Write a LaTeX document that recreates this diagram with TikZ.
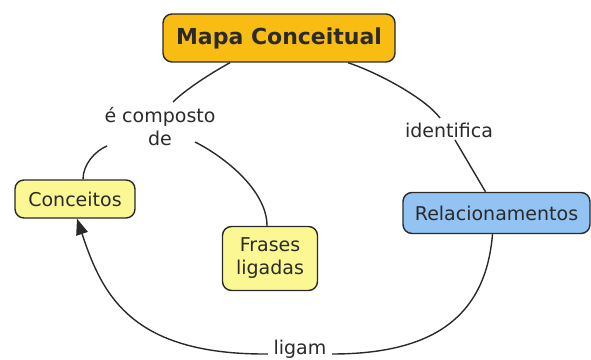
\documentclass[tikz,border=0pt]{standalone}
\usepackage{xcolor}
\usepackage{fontspec}
\setmainfont{DejaVu Sans}
\usepackage{tikz}
\usetikzlibrary{arrows.meta}
\definecolor{mapaOrange}{HTML}{F8BC12}
\definecolor{mapaYellow}{HTML}{FBF793}
\definecolor{mapaBlue}{HTML}{92C3F3}
\definecolor{mapaDark}{HTML}{2A2A2A}

\begin{document}
\begin{tikzpicture}[x=1pt, y=1pt,
        conceito/.style={draw=mapaDark, line width=1.4pt, rounded corners=9pt,
              text=mapaDark, align=center, inner sep=0pt,
              font=\fontsize{19}{23}\selectfont},
        frase/.style={text=mapaDark, align=center, inner sep=0pt,
              font=\fontsize{19}{23}\selectfont},
        ligacao/.style={draw=mapaDark, line width=1.4pt}]
    \useasboundingbox (0,0) rectangle (591,359);
        \node[conceito, fill=mapaOrange, minimum width=232pt, minimum height=48pt,
              font=\fontsize{22}{26}\selectfont\bfseries] (mapa) at (279,321) {Mapa Conceitual};
        \node[frase] (composto) at (160,232) {é composto\\de};
        \node[conceito, fill=mapaYellow, minimum width=120pt, minimum height=38pt] (conceitos) at (75,160) {Conceitos};
        \node[conceito, fill=mapaYellow, minimum width=95pt, minimum height=64pt] (frases) at (270,100.5) {Frases\\ligadas};
        \node[frase] (identifica) at (449,229) {identifica};
        \node[conceito, fill=mapaBlue, minimum width=187pt, minimum height=41pt] (relac) at (496.5,146) {Relacionamentos};
        \node[frase] (ligam) at (300,10) {ligam};

        \draw[ligacao] ([xshift=-49pt]mapa.south) .. controls +(-20,-11) and +(12,12) .. ([shift={(13,25)}]composto.center);
        \draw[ligacao] ([shift={(-53,-19)}]composto.center) .. controls +(-12,-5) and +(0,15) .. ([xshift=8pt]conceitos.north);
        \draw[ligacao] ([shift={(35,-15)}]composto.center) .. controls +(30,-15) and +(0,35) .. ([xshift=-3pt]frases.north);
        \draw[ligacao] ([xshift=69pt]mapa.south) .. controls +(30,-10) and +(-15,20) .. ([shift={(-9,12)}]identifica.center);
        \draw[ligacao] ([shift={(6,-10)}]identifica.center) -- ([xshift=-11pt]relac.north);
        \draw[ligacao] ([xshift=-4pt]relac.south) .. controls +(-7,-85) and +(98,0) .. ([shift={(32,-5)}]ligam.center);
        \draw[ligacao, -{Triangle[length=16pt, width=12pt]}] ([shift={(-32,-5)}]ligam.center) .. controls +(-138,-1) and +(25,-75) .. ([xshift=2pt]conceitos.south);
    \end{tikzpicture}
\end{document}
